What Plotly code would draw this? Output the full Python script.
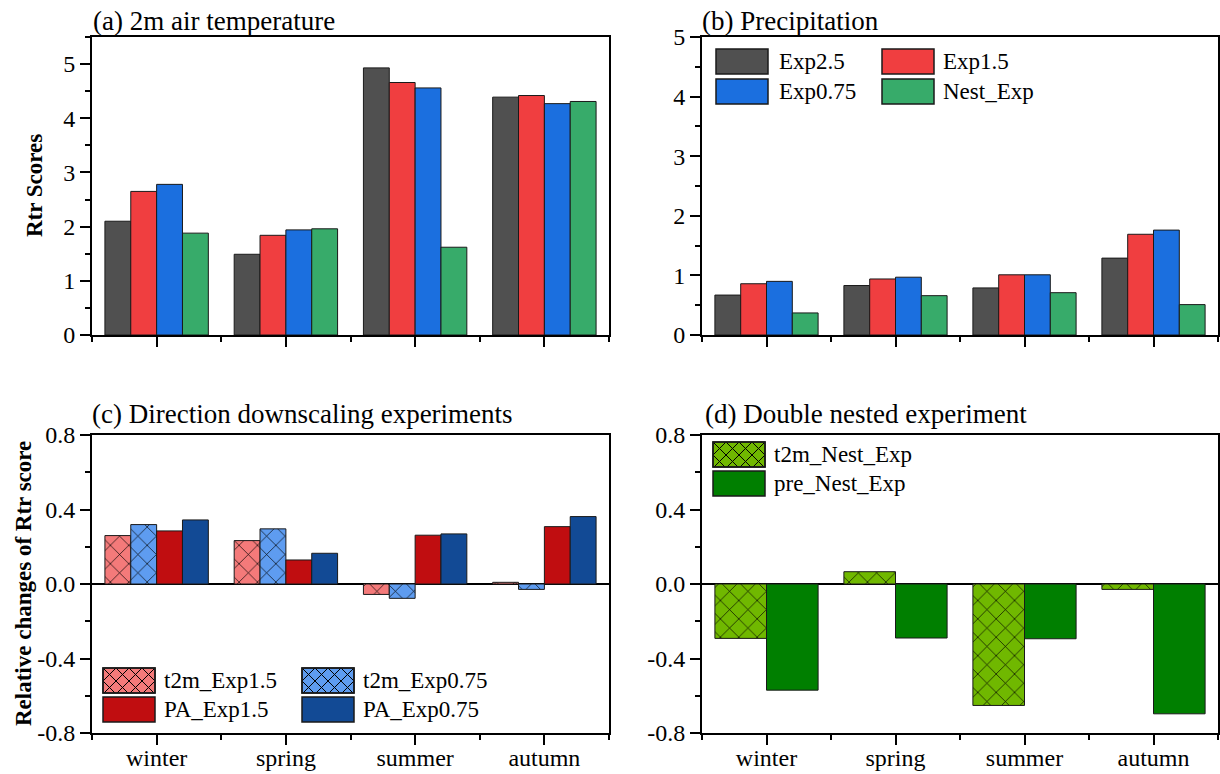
import plotly.graph_objects as go

seasons = ["winter", "spring", "summer", "autumn"]

# (a) 2m air temperature, Rtr scores
t2m_exp25 = [2.10, 1.49, 4.93, 4.39]
t2m_exp15 = [2.65, 1.84, 4.66, 4.42]
t2m_exp075 = [2.78, 1.94, 4.56, 4.27]
t2m_nest = [1.88, 1.96, 1.62, 4.31]

# (b) precipitation, Rtr scores
pre_exp25 = [0.67, 0.83, 0.79, 1.29]
pre_exp15 = [0.86, 0.94, 1.01, 1.69]
pre_exp075 = [0.90, 0.97, 1.01, 1.76]
pre_nest = [0.37, 0.66, 0.71, 0.51]

# (c) direct downscaling experiments, relative changes
rc_t2m_exp15 = [0.260, 0.233, -0.056, 0.009]
rc_t2m_exp075 = [0.319, 0.296, -0.077, -0.029]
rc_pa_exp15 = [0.285, 0.129, 0.262, 0.308]
rc_pa_exp075 = [0.344, 0.165, 0.269, 0.362]

# (d) double nested experiment, relative changes
rc_t2m_nest = [-0.292, 0.066, -0.652, -0.029]
rc_pre_nest = [-0.570, -0.290, -0.294, -0.697]

# tick labels
score_ticks_a = [0, 1, 2, 3, 4, 5]
score_ticks_b = [0, 1, 2, 3, 4, 5]
score_minor_a = [0.5, 1.5, 2.5, 3.5, 4.5, 5.5]
score_minor_b = [0.5, 1.5, 2.5, 3.5, 4.5]
change_ticks = [-0.8, -0.4, 0.0, 0.4, 0.8]
change_tick_text = ["-0.8", "-0.4", "0.0", "0.4", "0.8"]
change_minor = [-0.6, -0.2, 0.2, 0.6]

FONT = "Liberation Serif"
OFF = 0                      # body margin removed in the page (see post_script)
W, H = 1220 - OFF, 774 - OFF
xpos = list(range(len(seasons)))


def px(x):
    return (x - OFF) / W


def py(y):
    return 1 - (y - OFF) / H


C_GRAY, C_RED, C_BLUE, C_GREEN = "#505050", "#f03e40", "#1b6fdf", "#37ab6a"
C_PINK, C_LBLUE, C_DRED, C_DBLUE = "#f47a7a", "#5e9cf0", "#c00d10", "#124a95"
C_YG, C_DG = "#70b800", "#007f00"
EDGE = "#1a1a1a"
HATCH = 13


def bar(y, name, color, xa, ya, hatch=False):
    marker = dict(color=color, line=dict(color=EDGE, width=1))
    if hatch:
        marker["pattern"] = dict(shape="x", fgcolor="#000000", bgcolor=color,
                                 size=HATCH, solidity=0.1, fillmode="replace")
    return go.Bar(x=xpos, y=y, name=name, marker=marker, xaxis=xa, yaxis=ya,
                  showlegend=False)


panel_a = [(t2m_exp25, "Exp2.5", C_GRAY, False), (t2m_exp15, "Exp1.5", C_RED, False),
           (t2m_exp075, "Exp0.75", C_BLUE, False), (t2m_nest, "Nest_Exp", C_GREEN, False)]
panel_b = [(pre_exp25, "Exp2.5", C_GRAY, False), (pre_exp15, "Exp1.5", C_RED, False),
           (pre_exp075, "Exp0.75", C_BLUE, False), (pre_nest, "Nest_Exp", C_GREEN, False)]
panel_c = [(rc_t2m_exp15, "t2m_Exp1.5", C_PINK, True), (rc_t2m_exp075, "t2m_Exp0.75", C_LBLUE, True),
           (rc_pa_exp15, "PA_Exp1.5", C_DRED, False), (rc_pa_exp075, "PA_Exp0.75", C_DBLUE, False)]
panel_d = [(rc_t2m_nest, "t2m_Nest_Exp", C_YG, True), (rc_pre_nest, "pre_Nest_Exp", C_DG, False)]

fig = go.Figure()
for series, xa, ya in [(panel_a, "x", "y"), (panel_b, "x2", "y2"),
                       (panel_c, "x3", "y3"), (panel_d, "x4", "y4")]:
    for y, n, c, h in series:
        fig.add_trace(bar(y, n, c, xa, ya, hatch=h))

dx_left = [px(92), px(609)]
dx_right = [px(702), px(1218)]
dy_top = [py(335), py(37)]
dy_bot = [py(733), py(435)]

axis_common = dict(showline=True, linecolor="black", linewidth=1.8, mirror=True,
                   ticks="outside", tickcolor="black", tickwidth=1.5, ticklen=10,
                   showgrid=False, zeroline=False, automargin=False,
                   tickfont=dict(family=FONT, size=24, color="black"))


def xaxis(domain, anchor, labels):
    d = dict(axis_common)
    d.update(domain=domain, anchor=anchor, range=[-0.5, len(seasons) - 0.5],
             tickmode="array", tickvals=xpos, ticktext=seasons if labels else [""] * len(seasons),
             tickfont=dict(family=FONT, size=24, color="black"), ticklabelstandoff=-8,
             minor=dict(ticks="outside", ticklen=5, tickwidth=1.5, tickcolor="black",
                        tick0=-0.5, dtick=1, showgrid=False))
    return d


def yaxis(domain, anchor, rng, vals, text, minor, zero=False):
    d = dict(axis_common)
    d.update(domain=domain, anchor=anchor, range=rng, tickmode="array",
             tickvals=vals, ticktext=text,
             minor=dict(ticks="outside", ticklen=5, tickwidth=1.5, tickcolor="black",
                        tickmode="array", tickvals=minor, showgrid=False))
    if zero:
        d.update(zeroline=True, zerolinecolor="black", zerolinewidth=1.5)
    return d


fig.update_layout(
    template="none",
    width=W, height=H,
    margin=dict(l=0, r=0, t=0, b=0, autoexpand=False),
    paper_bgcolor="white", plot_bgcolor="white",
    barmode="group", bargap=0.2, bargroupgap=0,
    showlegend=False,
    font=dict(family=FONT, size=23, color="black"),
    xaxis=xaxis(dx_left, "y", False),
    yaxis=yaxis(dy_top, "x", [0, 5.5], score_ticks_a, [str(v) for v in score_ticks_a], score_minor_a),
    xaxis2=xaxis(dx_right, "y2", False),
    yaxis2=yaxis(dy_top, "x2", [0, 5], score_ticks_b, [str(v) for v in score_ticks_b], score_minor_b),
    xaxis3=xaxis(dx_left, "y3", True),
    yaxis3=yaxis(dy_bot, "x3", [-0.8, 0.8], change_ticks, change_tick_text, change_minor, zero=True),
    xaxis4=xaxis(dx_right, "y4", True),
    yaxis4=yaxis(dy_bot, "x4", [-0.8, 0.8], change_ticks, change_tick_text, change_minor, zero=True),
)

# ---------- legends drawn as boxed patches (as in the reference) ----------
shapes = []


def hatch_path(x0, y0, x1, y1, s):
    segs = []
    c = x0 - y1
    c -= ((c - (x0 - y0)) % s)
    while c <= x1 - y0:
        t0, t1 = max(x0, y0 + c), min(x1, y1 + c)
        if t1 > t0:
            segs.append((t0, t0 - c, t1, t1 - c))
        c += s
    c = x0 + y0
    while c <= x1 + y1:
        t0, t1 = max(x0, c - y1), min(x1, c - y0)
        if t1 > t0:
            segs.append((t0, c - t0, t1, c - t1))
        c += s
    return " ".join(f"M{px(a):.5f},{py(b):.5f} L{px(cc):.5f},{py(d):.5f}" for a, b, cc, d in segs)


def legend_entry(x0, y0, name, color, hatch, text_x):
    x1, y1 = x0 + 52, y0 + 25
    shapes.append(dict(type="rect", xref="paper", yref="paper", x0=px(x0), x1=px(x1),
                       y0=py(y1), y1=py(y0), fillcolor=color, line=dict(color=EDGE, width=1.5),
                       layer="above"))
    if hatch:
        shapes.append(dict(type="path", xref="paper", yref="paper",
                           path=hatch_path(x0, y0, x1, y1, HATCH),
                           line=dict(color="black", width=1), layer="above"))
        shapes.append(dict(type="rect", xref="paper", yref="paper", x0=px(x0), x1=px(x1),
                           y0=py(y1), y1=py(y0), line=dict(color=EDGE, width=1.5),
                           layer="above"))
    fig.add_annotation(text=name, x=px(text_x), y=py((y0 + y1) / 2), xref="paper", yref="paper",
                       xanchor="left", yanchor="middle", showarrow=False,
                       font=dict(family=FONT, size=23, color="black"))


# (b) legend: two columns
cols_b = [(716, 777), (882, 941)]
rows_b = [49, 79]
for i, (_, n, c, h) in enumerate(panel_b):
    cx, tx = cols_b[i % 2]
    legend_entry(cx, rows_b[i // 2], n, c, h, tx)
# (c) legend: two columns
cols_c = [(103, 162), (302, 361)]
rows_c = [668, 697]
for i, (_, n, c, h) in enumerate(panel_c):
    cx, tx = cols_c[i % 2]
    legend_entry(cx, rows_c[i // 2], n, c, h, tx)
# (d) legend: one column
rows_d = [442, 471]
for i, (_, n, c, h) in enumerate(panel_d):
    legend_entry(713, rows_d[i], n, c, h, 772)

fig.update_layout(shapes=shapes)

titles = [("(a) 2m air temperature", 91, 21),
          ("(b) Precipitation", 700, 21),
          ("(c) Direction downscaling experiments", 90, 414),
          ("(d) Double nested experiment", 703, 414)]
for text, x, y in titles:
    fig.add_annotation(text=text, x=px(x), y=py(y), xref="paper", yref="paper",
                       xanchor="left", yanchor="middle", showarrow=False,
                       font=dict(family=FONT, size=27, color="black"))

ytitles = [("<b>Rtr Scores</b>", 34, (37 + 335) / 2),
           ("<b>Relative changes of Rtr score</b>", 23, (435 + 733) / 2)]
for text, x, y in ytitles:
    fig.add_annotation(text=text, x=px(x), y=py(y), xref="paper", yref="paper",
                       xanchor="center", yanchor="middle", textangle=-90, showarrow=False,
                       font=dict(family=FONT, size=23, color="black"))

fig.write_html("out.html", config={"displayModeBar": False},
               post_script="document.body.style.margin='0px';document.body.style.overflow='hidden';")
